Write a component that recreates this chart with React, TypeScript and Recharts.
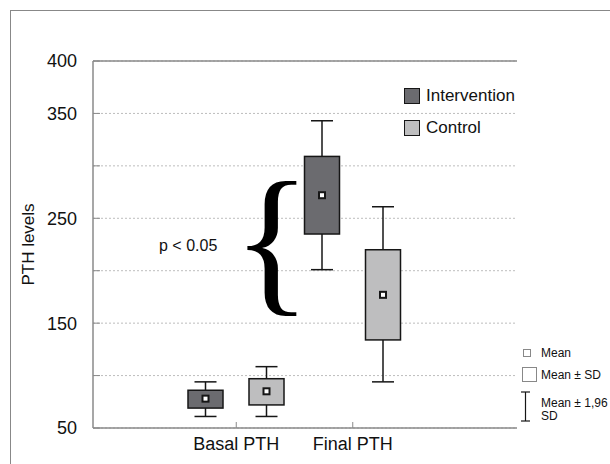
import React from 'react'
import { BarChart, Bar, XAxis, YAxis, CartesianGrid, ReferenceLine } from 'recharts'

// values (PTH levels)
const categories = ['Basal PTH', 'Final PTH']
const seriesNames = ['Intervention', 'Control']
const interventionMean = [78, 272]
const interventionSD = [[69, 86], [235, 309]] // mean ± SD
const intervention196 = [[61, 94], [201, 343]] // mean ± 1,96 SD
const controlMean = [85, 177]
const controlSD = [[72, 97], [134, 220]]
const control196 = [[61, 108.5], [94, 261]]
const yTicks = [50, 100, 150, 200, 250, 300, 350, 400]
const yLabeled = [50, 150, 250, 350, 400]

const data = categories.map((name, i) => ({
  name,
  intervention: interventionSD[i],
  control: controlSD[i],
}))

const AXIS = '#8a8a8a'
const INK = '#161616'
const DARK = '#6b6b6f'
const LIGHT = '#bebebf'
const FONT = '"Liberation Sans", Arial, sans-serif'

function makeBox(boxes: number[][], means: number[], whiskers: number[][]) {
  return (props: any) => {
    const { x, y, width, height, index, fill } = props
    const [lo, hi] = boxes[index]
    const top = Math.min(y, y + height)
    const h = Math.abs(height)
    const ppu = h / (hi - lo)
    const cx = x + width / 2
    const wTop = top - (whiskers[index][1] - hi) * ppu
    const wBot = top + h + (lo - whiskers[index][0]) * ppu
    const my = top + (hi - means[index]) * ppu
    const cap = 11
    return (
      <g>
        <line x1={cx} x2={cx} y1={wTop} y2={top} stroke={INK} strokeWidth={1.5} />
        <line x1={cx} x2={cx} y1={top + h} y2={wBot} stroke={INK} strokeWidth={1.5} />
        <line x1={cx - cap} x2={cx + cap} y1={wTop} y2={wTop} stroke={INK} strokeWidth={1.5} />
        <line x1={cx - cap} x2={cx + cap} y1={wBot} y2={wBot} stroke={INK} strokeWidth={1.5} />
        <rect x={x} y={top} width={width} height={h} fill={fill} stroke={INK} strokeWidth={1.5} />
        <rect x={cx - 3} y={my - 3} width={6} height={6} fill="#fff" stroke={INK} strokeWidth={2} />
      </g>
    )
  }
}

export default function App() {
  return (
    <div style={{ position: 'absolute', left: 0, top: 0, width: 610, height: 464, background: '#fff', fontFamily: FONT }}>
      <div style={{ position: 'absolute', left: 10, top: 10, width: 600, height: 454, borderLeft: '1px solid #888', borderTop: '1px solid #888' }} />
      <div style={{ position: 'absolute', left: 0, top: 0 }}>
        <BarChart width={610} height={464} data={data} margin={{ top: 61, right: 93, bottom: 6, left: 0 }} barGap={26}>
          <CartesianGrid vertical={false} stroke="#bdbdbd" strokeDasharray="2 2" />
          <XAxis
            dataKey="name"
            height={30}
            padding={{ left: 85, right: 106 }}
            tickSize={-6}
            tickMargin={15}
            tick={{ fill: '#111', fontSize: 18, fontFamily: FONT }}
            axisLine={{ stroke: AXIS, strokeWidth: 1.5 }}
            tickLine={{ stroke: AXIS, strokeWidth: 1 }}
          />
          <YAxis
            type="number"
            domain={[50, 400]}
            ticks={yTicks}
            interval={0}
            width={93}
            tickSize={-7}
            tickMargin={23}
            tickFormatter={(v: number) => (yLabeled.includes(v) ? String(v) : '')}
            tick={{ fill: '#111', fontSize: 18, fontFamily: FONT }}
            axisLine={{ stroke: AXIS, strokeWidth: 1.5 }}
            tickLine={{ stroke: AXIS, strokeWidth: 1 }}
            label={{ value: 'PTH levels', angle: -90, position: 'center', dx: -19, fill: '#111', fontSize: 17, fontFamily: FONT }}
          />
          <YAxis
            yAxisId="right"
            orientation="right"
            type="number"
            domain={[50, 400]}
            ticks={yTicks}
            interval={0}
            width={0}
            tickSize={-7}
            tick={false}
            axisLine={{ stroke: AXIS, strokeWidth: 1.5 }}
            tickLine={{ stroke: AXIS, strokeWidth: 1 }}
          />
          <ReferenceLine y={400} stroke={AXIS} strokeWidth={1.5} />
          <Bar dataKey="intervention" fill={DARK} barSize={35} isAnimationActive={false}
            shape={makeBox(interventionSD, interventionMean, intervention196)} />
          <Bar dataKey="control" fill={LIGHT} barSize={35} isAnimationActive={false}
            shape={makeBox(controlSD, controlMean, control196)} />
        </BarChart>
      </div>

      {/* series legend */}
      {seriesNames.map((s, i) => (
        <div key={s} style={{ position: 'absolute', left: 404, top: 88 + i * 32, height: 16, display: 'flex', alignItems: 'center' }}>
          <div style={{ width: 14, height: 14, background: i === 0 ? DARK : LIGHT, border: `1.5px solid ${INK}` }} />
          <span style={{ marginLeft: 6, fontSize: 17, color: '#111', lineHeight: '16px' }}>{s}</span>
        </div>
      ))}

      {/* significance note */}
      <div style={{ position: 'absolute', left: 159, top: 236, fontSize: 16, color: '#111', lineHeight: '20px' }}>p &lt; 0.05</div>
      <svg width={610} height={464} style={{ position: 'absolute', left: 0, top: 0, pointerEvents: 'none' }}>
        <text x={232.5} y={294} fontSize={164} fontFamily='"Liberation Serif", "Times New Roman", serif' fill="#000">{'{'}</text>
        {/* statistic legend symbols */}
        <rect x={523.5} y={349.5} width={7} height={7} fill="#fff" stroke="#888" />
        <rect x={522.5} y={367.5} width={14} height={14} fill="#fff" stroke="#888" />
        <line x1={525.5} x2={525.5} y1={392} y2={421} stroke={INK} strokeWidth={1.2} />
        <line x1={521} x2={530} y1={392} y2={392} stroke={INK} strokeWidth={1.2} />
        <line x1={521} x2={530} y1={421} y2={421} stroke={INK} strokeWidth={1.2} />
      </svg>
      <div style={{ position: 'absolute', left: 541, top: 346, fontSize: 12, color: '#111', lineHeight: '14px' }}>Mean</div>
      <div style={{ position: 'absolute', left: 541, top: 368, fontSize: 12, color: '#111', lineHeight: '14px' }}>Mean ± SD</div>
      <div style={{ position: 'absolute', left: 541, top: 397, fontSize: 12, color: '#111', lineHeight: '13px', whiteSpace: 'nowrap' }}>
        Mean ± 1,96<br />SD
      </div>
    </div>
  )
}
